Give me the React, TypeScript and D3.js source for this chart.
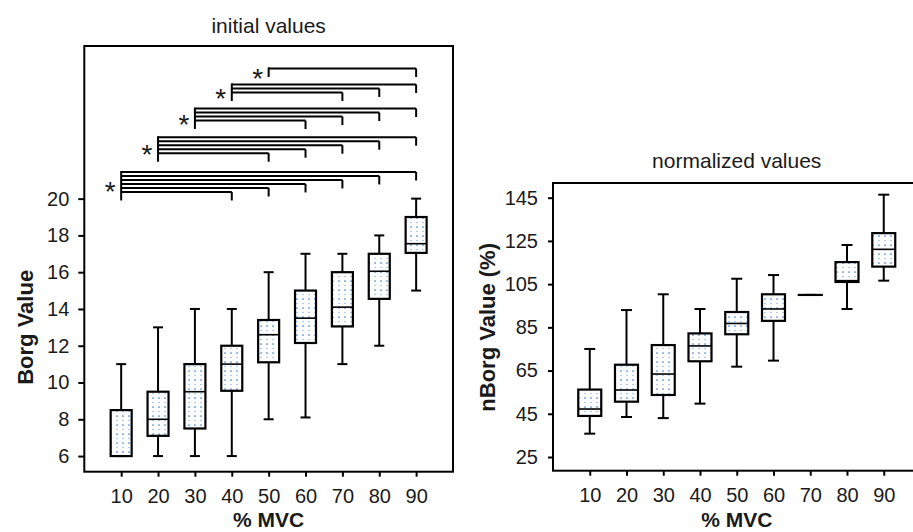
import React, { useEffect, useRef } from "react";
import * as d3 from "d3";

// % MVC categories
const mvc = [10, 20, 30, 40, 50, 60, 70, 80, 90];

// initial Borg values (box stats)
const borgMin = [6, 6, 6, 6, 8, 8.1, 11, 12, 15];
const borgQ1 = [6, 7.1, 7.5, 9.55, 11.1, 12.15, 13.05, 14.55, 17.05];
const borgMed = [6, 8, 9.5, 11, 12.6, 13.5, 14.1, 16.05, 17.55];
const borgQ3 = [8.5, 9.5, 11, 12, 13.4, 15, 16, 17, 19];
const borgMax = [11, 13, 14, 14, 16, 17, 17, 18, 20];
const borgTicks = [6, 8, 10, 12, 14, 16, 18, 20];

// normalized Borg values (%)
const nMin = [35.8, 43.5, 43, 49.7, 66.8, 69.6, 100, 93.5, 106.6];
const nQ1 = [44, 50.6, 53.7, 69.3, 81.8, 88, 100, 106, 113.1];
const nMed = [47.2, 56, 63.4, 76.4, 86.8, 93.5, 100, 106.6, 121.1];
const nQ3 = [56.2, 67.7, 76.8, 82.2, 92.1, 100.3, 100, 115.2, 128.6];
const nMax = [75, 93, 100.3, 93.5, 107.5, 109.2, 100, 123.1, 146.4];
const nTicks = [25, 45, 65, 85, 105, 125, 145];

// significance brackets (initial values): from -> each "to", top level in Borg units
const sigFrom = [10, 20, 30, 40, 50];
const sigTo = [
  [90, 80, 70, 60, 50, 40],
  [90, 80, 70, 60, 50],
  [90, 80, 70, 60],
  [90, 80, 70],
  [90],
];
const sigLevel = [21.45, 23.34, 24.9, 26.21, 27.08];

const FONT = "'Liberation Sans', Arial, sans-serif";
const TXT = "#1a1a1a";

type Stats = { min: number[]; q1: number[]; med: number[]; q3: number[]; max: number[] };

function BoxPanel(props: {
  frame: { left: number; right: number; top: number; bottom: number };
  yDomain: [number, number];
  yTicks: number[];
  stats: Stats;
  title: string;
  titleY: number;
  yLabel: string;
  yLabelX: number;
  boxW: number;
  capW: number;
  yTickLen: number;
  yTickPad: number;
  sig?: boolean;
}) {
  const ref = useRef<SVGGElement>(null);

  useEffect(() => {
    const { frame, yDomain, yTicks, stats, boxW, capW } = props;
    const g = d3.select(ref.current);
    g.selectAll("*").remove();

    const x = d3.scaleLinear().domain([0, 100]).range([frame.left, frame.right]);
    const y = d3.scaleLinear().domain(yDomain).range([frame.bottom, frame.top]);

    // frame
    g.append("rect")
      .attr("x", frame.left)
      .attr("y", frame.top)
      .attr("width", frame.right - frame.left)
      .attr("height", frame.bottom - frame.top)
      .attr("fill", "none")
      .attr("stroke", "#000")
      .attr("stroke-width", 2);

    // y axis
    const ya = g.append("g")
      .attr("transform", `translate(${frame.left},0)`)
      .call(d3.axisLeft(y).tickValues(yTicks).tickSize(props.yTickLen).tickPadding(props.yTickPad));
    ya.select(".domain").remove();
    ya.selectAll("line").attr("stroke", "#000").attr("stroke-width", 2);
    ya.selectAll("text")
      .attr("font-size", 20)
      .attr("font-family", FONT)
      .attr("fill", TXT);

    // x axis
    const xa = g.append("g")
      .attr("transform", `translate(0,${frame.bottom})`)
      .call(d3.axisBottom(x).tickValues(mvc).tickSize(5).tickPadding(12));
    xa.select(".domain").remove();
    xa.selectAll("line").attr("stroke", "#000").attr("stroke-width", 2);
    xa.selectAll("text")
      .attr("font-size", 20)
      .attr("font-family", FONT)
      .attr("fill", TXT);

    // boxes
    const boxes = g.append("g");
    mvc.forEach((m, i) => {
      const cx = x(m);
      const b = boxes.append("g");
      b.append("line")
        .attr("x1", cx).attr("x2", cx)
        .attr("y1", y(stats.max[i])).attr("y2", y(stats.q3[i]))
        .attr("stroke", "#000").attr("stroke-width", 2);
      b.append("line")
        .attr("x1", cx).attr("x2", cx)
        .attr("y1", y(stats.q1[i])).attr("y2", y(stats.min[i]))
        .attr("stroke", "#000").attr("stroke-width", 2);
      [stats.max[i], stats.min[i]].forEach((v) => {
        b.append("line")
          .attr("x1", cx - capW / 2).attr("x2", cx + capW / 2)
          .attr("y1", y(v)).attr("y2", y(v))
          .attr("stroke", "#000").attr("stroke-width", 2);
      });
      b.append("rect")
        .attr("x", cx - boxW / 2)
        .attr("y", y(stats.q3[i]))
        .attr("width", boxW)
        .attr("height", Math.max(0.01, y(stats.q1[i]) - y(stats.q3[i])))
        .attr("fill", "url(#dots)")
        .attr("stroke", "#000")
        .attr("stroke-width", 2.2);
      b.append("line")
        .attr("x1", cx - boxW / 2).attr("x2", cx + boxW / 2)
        .attr("y1", y(stats.med[i])).attr("y2", y(stats.med[i]))
        .attr("stroke", "#000").attr("stroke-width", 1.6);
    });

    // significance brackets
    if (props.sig) {
      const sg = g.append("g").attr("stroke", "#000").attr("stroke-width", 2).attr("fill", "none");
      const starSize = 28;
      sigFrom.forEach((from, gi) => {
        const x0 = x(from);
        const yTop = y(sigLevel[gi]);
        const ends = sigTo[gi];
        ends.forEach((to, k) => {
          const yy = yTop + k * 4;
          sg.append("line").attr("x1", x0).attr("x2", x(to)).attr("y1", yy).attr("y2", yy);
          sg.append("line").attr("x1", x(to)).attr("x2", x(to)).attr("y1", yy).attr("y2", yy + 8.5);
        });
        const yBot = yTop + (ends.length - 1) * 4 + 8.5;
        sg.append("line").attr("x1", x0).attr("x2", x0).attr("y1", yTop - 1).attr("y2", yBot);
        g.append("text")
          .attr("x", x0 - 11)
          .attr("y", (yTop + yBot) / 2 + starSize * 0.57 - 1)
          .attr("text-anchor", "middle")
          .attr("font-size", starSize)
          .attr("font-family", FONT)
          .attr("fill", TXT)
          .text("*");
      });
    }

    // title
    g.append("text")
      .attr("x", (frame.left + frame.right) / 2)
      .attr("y", props.titleY)
      .attr("text-anchor", "middle")
      .attr("font-size", 21)
      .attr("font-family", FONT)
      .attr("fill", TXT)
      .text(props.title);

    // x label
    g.append("text")
      .attr("x", (x(10) + x(90)) / 2)
      .attr("y", 527)
      .attr("text-anchor", "middle")
      .attr("font-size", 21)
      .attr("font-weight", "bold")
      .attr("font-family", FONT)
      .attr("fill", TXT)
      .text("% MVC");

    // y label
    const ly = (y(yTicks[0]) + y(yTicks[yTicks.length - 1])) / 2;
    g.append("text")
      .attr("transform", `translate(${props.yLabelX},${ly}) rotate(-90)`)
      .attr("text-anchor", "middle")
      .attr("dy", "0.35em")
      .attr("font-size", 22)
      .attr("font-weight", "bold")
      .attr("font-family", FONT)
      .attr("fill", TXT)
      .text(props.yLabel);
  }, [props]);

  return <g ref={ref} />;
}

export default function App() {
  const initial: Stats = { min: borgMin, q1: borgQ1, med: borgMed, q3: borgQ3, max: borgMax };
  const normalized: Stats = { min: nMin, q1: nQ1, med: nMed, q3: nQ3, max: nMax };

  return (
    <svg
      width={913}
      height={532}
      style={{ position: "absolute", left: 0, top: 0, background: "#fff" }}
    >
      <defs>
        <pattern id="dots" patternUnits="userSpaceOnUse" width={6} height={9}>
          <rect width={6} height={9} fill="#fff" />
          <circle cx={3} cy={2} r={0.85} fill="#3a82d4" />
          <circle cx={3} cy={6.5} r={0.75} fill="#86b4e6" />
        </pattern>
      </defs>
      <BoxPanel
        frame={{ left: 84.3, right: 453, top: 46, bottom: 471.7 }}
        yDomain={[5.15, 28.3]}
        yTicks={borgTicks}
        stats={initial}
        title="initial values"
        titleY={33}
        yLabel="Borg Value"
        yLabelX={25}
        boxW={21}
        capW={10}
        yTickLen={6}
        yTickPad={9}
        sig
      />
      <BoxPanel
        frame={{ left: 553, right: 920.5, top: 183, bottom: 470.7 }}
        yDomain={[18.66, 151.8]}
        yTicks={nTicks}
        stats={normalized}
        title="normalized values"
        titleY={168}
        yLabel="nBorg Value (%)"
        yLabelX={487}
        boxW={23}
        capW={11}
        yTickLen={5}
        yTickPad={10}
      />
    </svg>
  );
}
